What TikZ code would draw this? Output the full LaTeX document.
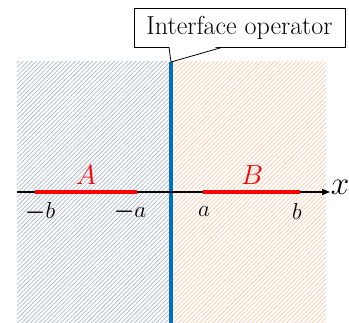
\documentclass[tikz,border=0pt]{standalone}
\usepackage{amsmath}
\usetikzlibrary{patterns.meta,arrows.meta,positioning}
\definecolor{slabgray}{HTML}{ADB9CA}
\definecolor{slabpeach}{HTML}{F4B183}
\definecolor{ifblue}{HTML}{0070C0}

\begin{document}
\begin{tikzpicture}[x=0.75pt,y=-0.75pt,
  hatch/.style={pattern={Lines[angle=45,distance=2.3pt,line width=0.55pt]},pattern color=#1},
  seg/.style={red,line width=2.6pt},
  endlbl/.style={font=\fontsize{17}{17}\selectfont, inner sep=0pt},
  partlbl/.style={red,font=\fontsize{21}{21}\selectfont, inner sep=0pt}]
\useasboundingbox (0,0) rectangle (349,323);
% hatched half spaces
\fill[hatch=slabgray] (17,62) rectangle (170,323);
\fill[hatch=slabpeach!65] (172,62) rectangle (326,323);
% interface
\coordinate (tip) at (171,62);
\coordinate (bot) at (171,323);
\draw[ifblue,line width=2.3pt] (tip) -- (bot);
% callout
\node[draw,fill=white,line width=0.6pt,minimum width=211pt*0.75,minimum height=39pt*0.75,
  font=\fontsize{19.5}{20}\selectfont,inner sep=0pt] (op) at (239.5,27.5) {Interface operator};
\fill[white] (169.3,46) -- (170.5,60) -- (221,46) -- cycle;
\draw[line width=0.6pt] (op.south -| 169,0) -- (tip) -- (op.south -| 222,0);
% x axis
\node[font=\fontsize{23}{23}\selectfont,inner sep=0pt] (xlab) at (340,187) {$x$};
\coordinate (xstart) at (17,192);
\coordinate (xend) at (330,192);
\draw[line width=0.8pt,-{Triangle[length=6pt,width=4.5pt]}] (xstart) -- (xend);
% regions A and B
\coordinate (mb) at (35,192);
\coordinate (ma) at (137,192);
\coordinate (pa) at (203,192);
\coordinate (pb) at (300,192);
\draw[seg] (mb) -- (ma);
\draw[seg] (pa) -- (pb);
\node[partlbl] (lA) at (86,175) {$A$};
\node[partlbl] (lB) at (252,175) {$B$};
% end points
\node[endlbl] (tmb) at (40,212) {$\boldsymbol{-}b$};
\node[endlbl] (tma) at (130,212) {$\boldsymbol{-}a$};
\node[endlbl] (tpa) at (204,212) {$a$};
\node[endlbl] (tpb) at (297,212) {$b$};
\end{tikzpicture}
\end{document}
